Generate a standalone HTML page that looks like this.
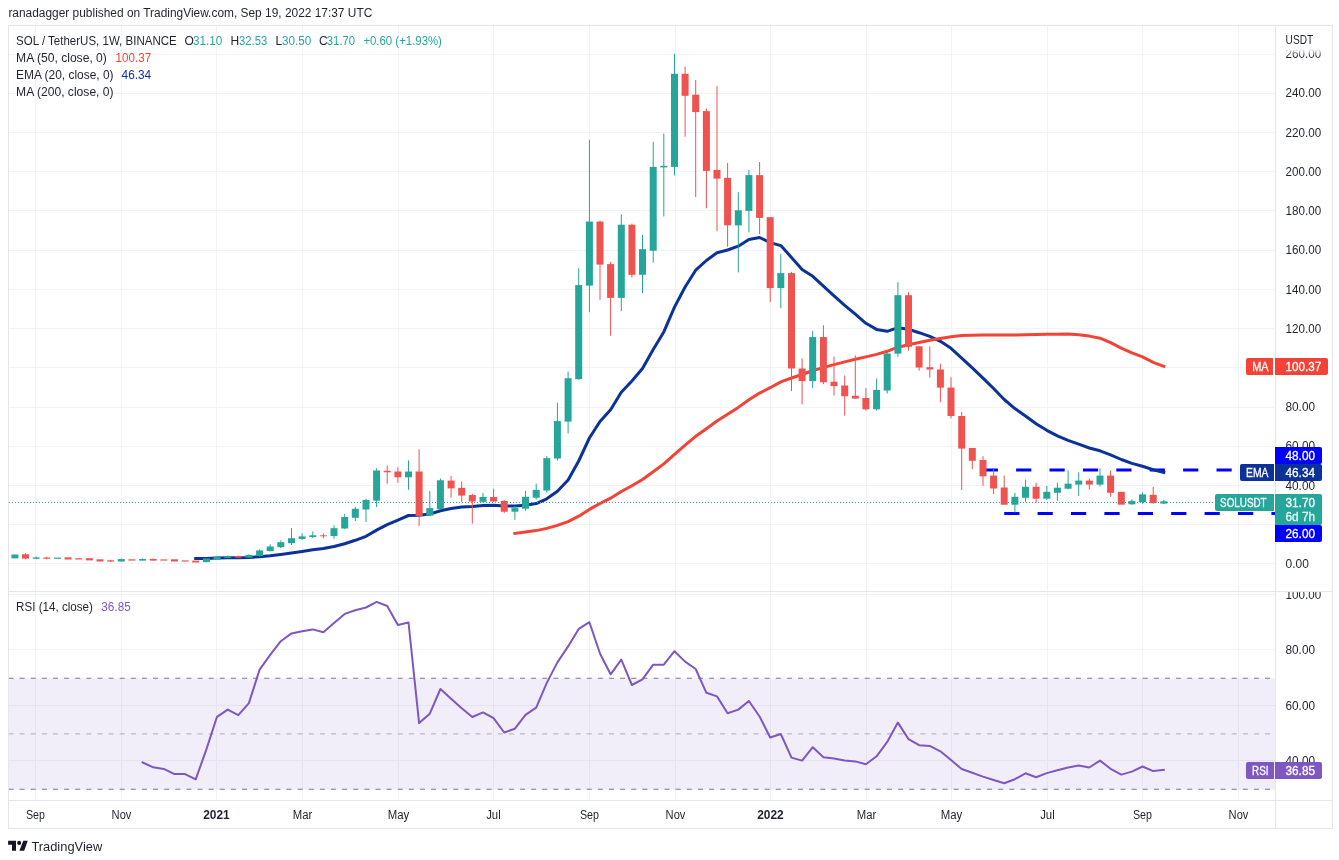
<!DOCTYPE html>
<html lang="en"><head><meta charset="utf-8"><title>SOL / TetherUS, 1W, BINANCE</title>
<style>html,body{margin:0;padding:0;background:#fff}svg{display:block}text{font-family:"Liberation Sans",sans-serif;font-size:12px;fill:#1f2330}.w{fill:#fff;stroke:#fff;stroke-width:.3px}.b{font-weight:bold}</style></head><body>
<svg width="1339" height="860" viewBox="0 0 1339 860">
<rect width="1339" height="860" fill="#fff"/>
<g shape-rendering="crispEdges" fill="#f2f3f6">
<rect x="35" y="26" width="1" height="565"/>
<rect x="35" y="592" width="1" height="208"/>
<rect x="121" y="26" width="1" height="565"/>
<rect x="121" y="592" width="1" height="208"/>
<rect x="216" y="26" width="1" height="565"/>
<rect x="216" y="592" width="1" height="208"/>
<rect x="302" y="26" width="1" height="565"/>
<rect x="302" y="592" width="1" height="208"/>
<rect x="398" y="26" width="1" height="565"/>
<rect x="398" y="592" width="1" height="208"/>
<rect x="493" y="26" width="1" height="565"/>
<rect x="493" y="592" width="1" height="208"/>
<rect x="589" y="26" width="1" height="565"/>
<rect x="589" y="592" width="1" height="208"/>
<rect x="675" y="26" width="1" height="565"/>
<rect x="675" y="592" width="1" height="208"/>
<rect x="770" y="26" width="1" height="565"/>
<rect x="770" y="592" width="1" height="208"/>
<rect x="866" y="26" width="1" height="565"/>
<rect x="866" y="592" width="1" height="208"/>
<rect x="951" y="26" width="1" height="565"/>
<rect x="951" y="592" width="1" height="208"/>
<rect x="1047" y="26" width="1" height="565"/>
<rect x="1047" y="592" width="1" height="208"/>
<rect x="1142" y="26" width="1" height="565"/>
<rect x="1142" y="592" width="1" height="208"/>
<rect x="1238" y="26" width="1" height="565"/>
<rect x="1238" y="592" width="1" height="208"/>
<rect x="9" y="563" width="1266" height="1"/>
<rect x="9" y="524" width="1266" height="1"/>
<rect x="9" y="485" width="1266" height="1"/>
<rect x="9" y="446" width="1266" height="1"/>
<rect x="9" y="407" width="1266" height="1"/>
<rect x="9" y="367" width="1266" height="1"/>
<rect x="9" y="328" width="1266" height="1"/>
<rect x="9" y="289" width="1266" height="1"/>
<rect x="9" y="250" width="1266" height="1"/>
<rect x="9" y="210" width="1266" height="1"/>
<rect x="9" y="171" width="1266" height="1"/>
<rect x="9" y="132" width="1266" height="1"/>
<rect x="9" y="93" width="1266" height="1"/>
<rect x="9" y="54" width="1266" height="1"/>
<rect x="9" y="594" width="1266" height="1"/>
<rect x="9" y="649" width="1266" height="1"/>
<rect x="9" y="705" width="1266" height="1"/>
<rect x="9" y="760" width="1266" height="1"/>
</g>
<rect x="9" y="678.3" width="1266" height="111.2" fill="#7e57c2" fill-opacity="0.1"/>
<g fill="none" stroke-width="1.1" stroke="#787b86" stroke-dasharray="5 6.12">
<path d="M8.5 678.3H1271"/>
<path d="M8.5 789.3H1271"/>
<path d="M8.5 733.9H1271" stroke-opacity="0.45"/>
</g>
<path d="M982.7 469.9H1275" stroke="#0000ff" stroke-width="3" stroke-dasharray="15.2 18.2" fill="none"/>
<path d="M1004.2 513.4H1275" stroke="#0000ff" stroke-width="3" stroke-dasharray="15.2 18.2" fill="none"/>
<path d="M195.7 558.5 L206.4 558.4 L217.0 558.1 L227.7 557.8 L238.3 557.7 L248.9 557.4 L259.6 556.7 L270.2 555.8 L280.8 554.5 L291.5 553.0 L302.1 551.4 L312.8 549.8 L323.4 548.5 L334.0 546.5 L344.7 543.7 L355.3 540.3 L366.0 536.3 L376.6 530.1 L387.2 524.7 L397.9 520.1 L408.5 515.5 L419.1 515.2 L429.8 514.1 L440.4 510.8 L451.1 508.5 L461.7 507.1 L472.3 506.5 L483.0 505.5 L493.6 505.2 L504.2 505.9 L514.9 506.1 L525.5 505.2 L536.2 503.6 L546.8 498.8 L557.4 491.2 L568.1 480.0 L578.7 461.0 L589.4 438.0 L600.0 421.5 L610.6 409.7 L621.3 392.3 L631.9 381.0 L642.5 368.5 L653.2 349.5 L663.8 331.9 L674.5 307.1 L685.1 287.0 L695.7 270.2 L706.4 260.5 L717.0 252.7 L727.6 250.0 L738.3 246.2 L748.9 239.5 L759.6 237.5 L770.2 242.6 L780.8 245.6 L791.5 257.4 L802.1 269.5 L812.8 276.3 L823.4 286.2 L834.0 295.8 L844.7 305.3 L855.3 314.2 L865.9 323.3 L876.6 329.4 L887.2 331.3 L897.9 327.7 L908.5 329.3 L919.1 332.7 L929.8 336.4 L940.4 341.3 L951.0 348.3 L961.7 358.1 L972.3 367.8 L983.0 378.1 L993.6 388.5 L1004.2 399.5 L1014.9 408.6 L1025.5 416.0 L1036.1 423.8 L1046.8 430.3 L1057.4 435.8 L1068.1 440.4 L1078.7 444.2 L1089.3 448.0 L1100.0 450.8 L1110.6 454.8 L1121.3 459.5 L1131.9 463.4 L1142.5 466.2 L1153.2 469.7 L1163.8 472.4" fill="none" stroke="#0c3299" stroke-width="3" stroke-linejoin="round" stroke-linecap="square"/>
<path d="M514.9 533.4 L525.5 532.0 L536.2 530.6 L546.8 528.4 L557.4 525.4 L568.1 521.6 L578.7 516.2 L589.4 509.4 L600.0 503.5 L610.6 498.2 L621.3 491.5 L631.9 485.7 L642.5 479.5 L653.2 471.7 L663.8 463.9 L674.5 454.3 L685.1 445.2 L695.7 436.3 L706.4 428.7 L717.0 421.0 L727.6 414.3 L738.3 407.4 L748.9 399.8 L759.6 393.1 L770.2 387.7 L780.8 381.9 L791.5 378.0 L802.1 374.5 L812.8 370.5 L823.4 367.6 L834.0 364.6 L844.7 361.9 L855.3 359.2 L865.9 356.9 L876.6 354.4 L887.2 351.3 L897.9 347.2 L908.5 344.7 L919.1 342.5 L929.8 340.3 L940.4 338.6 L951.0 336.7 L961.7 335.6 L972.3 335.3 L983.0 335.1 L993.6 335.0 L1004.2 335.1 L1014.9 335.1 L1025.5 334.8 L1036.1 334.6 L1046.8 334.3 L1057.4 334.2 L1068.1 334.1 L1078.7 334.7 L1089.3 336.1 L1100.0 338.2 L1110.6 342.6 L1121.3 348.2 L1131.9 352.9 L1142.5 356.8 L1153.2 362.3 L1163.8 366.4" fill="none" stroke="#f44336" stroke-width="3" stroke-linejoin="round" stroke-linecap="square"/>
<g>
<rect x="11.4" y="554.5" width="7" height="3.9" fill="#26a69a"/>
<rect x="25.0" y="553.2" width="1" height="6.1" fill="#ef5350"/>
<rect x="22.0" y="554.3" width="7" height="4.3" fill="#ef5350"/>
<rect x="35.7" y="556.7" width="1" height="2.5" fill="#26a69a"/>
<rect x="32.7" y="557.5" width="7" height="1.3" fill="#26a69a"/>
<rect x="46.3" y="556.7" width="1" height="2.5" fill="#ef5350"/>
<rect x="43.3" y="557.5" width="7" height="1.2" fill="#ef5350"/>
<rect x="54.0" y="557.6" width="7" height="1.2" fill="#26a69a"/>
<rect x="64.6" y="557.3" width="7" height="2.2" fill="#ef5350"/>
<rect x="75.2" y="558.2" width="7" height="1.3" fill="#ef5350"/>
<rect x="85.9" y="558.2" width="7" height="2.2" fill="#ef5350"/>
<rect x="96.5" y="559.3" width="7" height="2.2" fill="#ef5350"/>
<rect x="110.1" y="559.8" width="1" height="1.8" fill="#ef5350"/>
<rect x="107.1" y="560.3" width="7" height="1.3" fill="#ef5350"/>
<rect x="120.8" y="558.6" width="1" height="2.9" fill="#26a69a"/>
<rect x="117.8" y="559.1" width="7" height="2.4" fill="#26a69a"/>
<rect x="128.4" y="559.3" width="7" height="1.3" fill="#ef5350"/>
<rect x="142.1" y="558.5" width="1" height="2.1" fill="#26a69a"/>
<rect x="139.1" y="559.0" width="7" height="1.6" fill="#26a69a"/>
<rect x="152.7" y="558.5" width="1" height="2.1" fill="#ef5350"/>
<rect x="149.7" y="559.0" width="7" height="1.6" fill="#ef5350"/>
<rect x="160.3" y="559.4" width="7" height="1.2" fill="#ef5350"/>
<rect x="171.0" y="559.3" width="7" height="2.2" fill="#ef5350"/>
<rect x="181.6" y="560.4" width="7" height="1.2" fill="#ef5350"/>
<rect x="192.2" y="560.6" width="7" height="1.9" fill="#ef5350"/>
<rect x="202.9" y="558.3" width="7" height="3.9" fill="#26a69a"/>
<rect x="213.5" y="556.5" width="7" height="3.2" fill="#26a69a"/>
<rect x="227.2" y="555.4" width="1" height="2.9" fill="#26a69a"/>
<rect x="224.2" y="556.1" width="7" height="1.8" fill="#26a69a"/>
<rect x="237.8" y="555.5" width="1" height="2.5" fill="#ef5350"/>
<rect x="234.8" y="556.1" width="7" height="1.5" fill="#ef5350"/>
<rect x="248.4" y="554.3" width="1" height="3.5" fill="#26a69a"/>
<rect x="245.4" y="555.0" width="7" height="2.6" fill="#26a69a"/>
<rect x="259.1" y="549.3" width="1" height="7.2" fill="#26a69a"/>
<rect x="256.1" y="550.4" width="7" height="5.7" fill="#26a69a"/>
<rect x="269.7" y="544.3" width="1" height="7.2" fill="#26a69a"/>
<rect x="266.7" y="546.5" width="7" height="4.6" fill="#26a69a"/>
<rect x="280.3" y="540.4" width="1" height="7.8" fill="#26a69a"/>
<rect x="277.3" y="542.2" width="7" height="5.0" fill="#26a69a"/>
<rect x="291.0" y="528.2" width="1" height="16.8" fill="#26a69a"/>
<rect x="288.0" y="538.2" width="7" height="5.0" fill="#26a69a"/>
<rect x="301.6" y="533.2" width="1" height="6.8" fill="#26a69a"/>
<rect x="298.6" y="536.4" width="7" height="2.5" fill="#26a69a"/>
<rect x="312.3" y="531.4" width="1" height="6.8" fill="#26a69a"/>
<rect x="309.3" y="535.3" width="7" height="1.8" fill="#26a69a"/>
<rect x="322.9" y="533.5" width="1" height="4.7" fill="#ef5350"/>
<rect x="319.9" y="535.3" width="7" height="1.0" fill="#ef5350"/>
<rect x="333.5" y="525.3" width="1" height="13.6" fill="#26a69a"/>
<rect x="330.5" y="528.2" width="7" height="7.8" fill="#26a69a"/>
<rect x="344.2" y="513.8" width="1" height="15.1" fill="#26a69a"/>
<rect x="341.2" y="517.0" width="7" height="11.5" fill="#26a69a"/>
<rect x="354.8" y="507.0" width="1" height="14.0" fill="#26a69a"/>
<rect x="351.8" y="508.8" width="7" height="9.0" fill="#26a69a"/>
<rect x="365.5" y="498.8" width="1" height="23.2" fill="#26a69a"/>
<rect x="362.5" y="499.9" width="7" height="9.6" fill="#26a69a"/>
<rect x="376.1" y="468.3" width="1" height="38.7" fill="#26a69a"/>
<rect x="373.1" y="470.5" width="7" height="30.1" fill="#26a69a"/>
<rect x="386.7" y="465.4" width="1" height="18.3" fill="#ef5350"/>
<rect x="383.7" y="470.8" width="7" height="1.5" fill="#ef5350"/>
<rect x="397.4" y="467.2" width="1" height="15.5" fill="#ef5350"/>
<rect x="394.4" y="471.5" width="7" height="5.8" fill="#ef5350"/>
<rect x="408.0" y="460.4" width="1" height="29.4" fill="#26a69a"/>
<rect x="405.0" y="471.5" width="7" height="5.8" fill="#26a69a"/>
<rect x="418.6" y="449.3" width="1" height="76.7" fill="#ef5350"/>
<rect x="415.6" y="471.5" width="7" height="44.5" fill="#ef5350"/>
<rect x="429.3" y="490.9" width="1" height="25.1" fill="#26a69a"/>
<rect x="426.3" y="508.1" width="7" height="7.5" fill="#26a69a"/>
<rect x="439.9" y="478.5" width="1" height="31.1" fill="#26a69a"/>
<rect x="436.9" y="480.3" width="7" height="28.7" fill="#26a69a"/>
<rect x="450.6" y="476.1" width="1" height="21.6" fill="#ef5350"/>
<rect x="447.6" y="480.6" width="7" height="7.8" fill="#ef5350"/>
<rect x="461.2" y="481.5" width="1" height="20.3" fill="#ef5350"/>
<rect x="458.2" y="487.8" width="7" height="7.8" fill="#ef5350"/>
<rect x="471.8" y="493.8" width="1" height="29.8" fill="#ef5350"/>
<rect x="468.8" y="495.0" width="7" height="6.5" fill="#ef5350"/>
<rect x="482.5" y="492.9" width="1" height="9.8" fill="#26a69a"/>
<rect x="479.5" y="497.0" width="7" height="4.8" fill="#26a69a"/>
<rect x="493.1" y="488.7" width="1" height="13.4" fill="#ef5350"/>
<rect x="490.1" y="497.0" width="7" height="4.5" fill="#ef5350"/>
<rect x="503.7" y="500.0" width="1" height="12.9" fill="#ef5350"/>
<rect x="500.7" y="500.9" width="7" height="10.8" fill="#ef5350"/>
<rect x="514.4" y="506.0" width="1" height="13.8" fill="#26a69a"/>
<rect x="511.4" y="508.1" width="7" height="3.6" fill="#26a69a"/>
<rect x="525.0" y="490.8" width="1" height="20.0" fill="#26a69a"/>
<rect x="522.0" y="496.8" width="7" height="11.9" fill="#26a69a"/>
<rect x="535.7" y="483.6" width="1" height="15.8" fill="#26a69a"/>
<rect x="532.7" y="489.9" width="7" height="7.8" fill="#26a69a"/>
<rect x="546.3" y="456.1" width="1" height="36.5" fill="#26a69a"/>
<rect x="543.3" y="458.2" width="7" height="32.3" fill="#26a69a"/>
<rect x="556.9" y="402.7" width="1" height="57.8" fill="#26a69a"/>
<rect x="553.9" y="421.1" width="7" height="37.4" fill="#26a69a"/>
<rect x="567.6" y="371.5" width="1" height="61.9" fill="#26a69a"/>
<rect x="564.6" y="378.2" width="7" height="43.4" fill="#26a69a"/>
<rect x="578.2" y="268.2" width="1" height="111.5" fill="#26a69a"/>
<rect x="575.2" y="285.1" width="7" height="94.1" fill="#26a69a"/>
<rect x="588.9" y="139.7" width="1" height="172.5" fill="#26a69a"/>
<rect x="585.9" y="221.6" width="7" height="64.0" fill="#26a69a"/>
<rect x="599.5" y="220.6" width="1" height="79.3" fill="#ef5350"/>
<rect x="596.5" y="221.6" width="7" height="43.0" fill="#ef5350"/>
<rect x="610.1" y="262.0" width="1" height="73.7" fill="#ef5350"/>
<rect x="607.1" y="264.1" width="7" height="33.8" fill="#ef5350"/>
<rect x="620.8" y="214.4" width="1" height="96.8" fill="#26a69a"/>
<rect x="617.8" y="224.7" width="7" height="73.2" fill="#26a69a"/>
<rect x="631.4" y="223.6" width="1" height="53.8" fill="#ef5350"/>
<rect x="628.4" y="224.7" width="7" height="50.1" fill="#ef5350"/>
<rect x="642.0" y="234.9" width="1" height="58.3" fill="#26a69a"/>
<rect x="639.0" y="249.2" width="7" height="25.6" fill="#26a69a"/>
<rect x="652.7" y="141.8" width="1" height="120.8" fill="#26a69a"/>
<rect x="649.7" y="166.9" width="7" height="83.8" fill="#26a69a"/>
<rect x="663.3" y="133.6" width="1" height="82.9" fill="#26a69a"/>
<rect x="660.3" y="165.8" width="7" height="1.6" fill="#26a69a"/>
<rect x="674.0" y="53.8" width="1" height="121.7" fill="#26a69a"/>
<rect x="671.0" y="73.8" width="7" height="93.1" fill="#26a69a"/>
<rect x="684.6" y="66.6" width="1" height="70.1" fill="#ef5350"/>
<rect x="681.6" y="73.8" width="7" height="22.0" fill="#ef5350"/>
<rect x="695.2" y="79.9" width="1" height="117.1" fill="#ef5350"/>
<rect x="692.2" y="94.7" width="7" height="17.4" fill="#ef5350"/>
<rect x="705.9" y="108.5" width="1" height="99.8" fill="#ef5350"/>
<rect x="702.9" y="111.1" width="7" height="59.8" fill="#ef5350"/>
<rect x="716.5" y="86.0" width="1" height="145.3" fill="#ef5350"/>
<rect x="713.5" y="169.9" width="7" height="8.7" fill="#ef5350"/>
<rect x="727.1" y="163.0" width="1" height="83.7" fill="#ef5350"/>
<rect x="724.1" y="177.8" width="7" height="47.5" fill="#ef5350"/>
<rect x="737.8" y="192.2" width="1" height="80.2" fill="#26a69a"/>
<rect x="734.8" y="210.3" width="7" height="15.1" fill="#26a69a"/>
<rect x="748.4" y="170.0" width="1" height="62.3" fill="#26a69a"/>
<rect x="745.4" y="175.1" width="7" height="35.8" fill="#26a69a"/>
<rect x="759.1" y="162.0" width="1" height="72.1" fill="#ef5350"/>
<rect x="756.1" y="175.1" width="7" height="42.8" fill="#ef5350"/>
<rect x="769.7" y="217.2" width="1" height="84.8" fill="#ef5350"/>
<rect x="766.7" y="217.2" width="7" height="70.9" fill="#ef5350"/>
<rect x="780.3" y="254.2" width="1" height="54.0" fill="#26a69a"/>
<rect x="777.3" y="273.1" width="7" height="15.0" fill="#26a69a"/>
<rect x="791.0" y="271.8" width="1" height="119.3" fill="#ef5350"/>
<rect x="788.0" y="273.1" width="7" height="95.4" fill="#ef5350"/>
<rect x="801.6" y="358.5" width="1" height="45.8" fill="#ef5350"/>
<rect x="798.6" y="368.5" width="7" height="12.6" fill="#ef5350"/>
<rect x="812.2" y="330.8" width="1" height="57.2" fill="#26a69a"/>
<rect x="809.2" y="337.1" width="7" height="44.0" fill="#26a69a"/>
<rect x="822.9" y="325.2" width="1" height="59.0" fill="#ef5350"/>
<rect x="819.9" y="337.1" width="7" height="45.2" fill="#ef5350"/>
<rect x="833.5" y="356.6" width="1" height="38.9" fill="#ef5350"/>
<rect x="830.5" y="381.7" width="7" height="4.4" fill="#ef5350"/>
<rect x="844.2" y="375.4" width="1" height="40.2" fill="#ef5350"/>
<rect x="841.2" y="385.5" width="7" height="10.7" fill="#ef5350"/>
<rect x="854.8" y="355.3" width="1" height="43.3" fill="#ef5350"/>
<rect x="851.8" y="395.8" width="7" height="2.8" fill="#ef5350"/>
<rect x="865.4" y="388.0" width="1" height="22.6" fill="#ef5350"/>
<rect x="862.4" y="398.0" width="7" height="11.3" fill="#ef5350"/>
<rect x="876.1" y="378.6" width="1" height="32.0" fill="#26a69a"/>
<rect x="873.1" y="389.9" width="7" height="19.4" fill="#26a69a"/>
<rect x="886.7" y="352.2" width="1" height="41.4" fill="#26a69a"/>
<rect x="883.7" y="353.5" width="7" height="37.0" fill="#26a69a"/>
<rect x="897.4" y="282.2" width="1" height="74.6" fill="#26a69a"/>
<rect x="894.4" y="295.2" width="7" height="58.4" fill="#26a69a"/>
<rect x="908.0" y="292.2" width="1" height="58.5" fill="#ef5350"/>
<rect x="905.0" y="295.2" width="7" height="51.6" fill="#ef5350"/>
<rect x="918.6" y="346.3" width="1" height="24.4" fill="#ef5350"/>
<rect x="915.6" y="346.3" width="7" height="21.2" fill="#ef5350"/>
<rect x="929.3" y="346.3" width="1" height="31.4" fill="#ef5350"/>
<rect x="926.3" y="367.2" width="7" height="2.3" fill="#ef5350"/>
<rect x="939.9" y="363.7" width="1" height="38.4" fill="#ef5350"/>
<rect x="936.9" y="369.5" width="7" height="18.1" fill="#ef5350"/>
<rect x="950.5" y="377.1" width="1" height="41.3" fill="#ef5350"/>
<rect x="947.5" y="387.6" width="7" height="28.4" fill="#ef5350"/>
<rect x="961.2" y="412.0" width="1" height="77.9" fill="#ef5350"/>
<rect x="958.2" y="416.0" width="7" height="32.6" fill="#ef5350"/>
<rect x="971.8" y="448.0" width="1" height="21.0" fill="#ef5350"/>
<rect x="968.8" y="448.0" width="7" height="12.8" fill="#ef5350"/>
<rect x="982.5" y="456.2" width="1" height="29.6" fill="#ef5350"/>
<rect x="979.5" y="460.0" width="7" height="16.3" fill="#ef5350"/>
<rect x="993.1" y="468.4" width="1" height="25.6" fill="#ef5350"/>
<rect x="990.1" y="475.6" width="7" height="12.9" fill="#ef5350"/>
<rect x="1003.7" y="475.6" width="1" height="29.1" fill="#ef5350"/>
<rect x="1000.7" y="487.5" width="7" height="17.2" fill="#ef5350"/>
<rect x="1014.4" y="493.0" width="1" height="19.6" fill="#26a69a"/>
<rect x="1011.4" y="496.8" width="7" height="7.9" fill="#26a69a"/>
<rect x="1025.0" y="479.6" width="1" height="22.2" fill="#26a69a"/>
<rect x="1022.0" y="486.8" width="7" height="11.0" fill="#26a69a"/>
<rect x="1035.6" y="482.7" width="1" height="19.9" fill="#ef5350"/>
<rect x="1032.6" y="486.8" width="7" height="11.9" fill="#ef5350"/>
<rect x="1046.3" y="485.8" width="1" height="14.1" fill="#26a69a"/>
<rect x="1043.3" y="491.8" width="7" height="6.9" fill="#26a69a"/>
<rect x="1056.9" y="482.7" width="1" height="18.2" fill="#26a69a"/>
<rect x="1053.9" y="487.7" width="7" height="5.1" fill="#26a69a"/>
<rect x="1067.6" y="470.3" width="1" height="19.0" fill="#26a69a"/>
<rect x="1064.6" y="483.7" width="7" height="5.0" fill="#26a69a"/>
<rect x="1078.2" y="472.4" width="1" height="23.5" fill="#26a69a"/>
<rect x="1075.2" y="480.6" width="7" height="4.0" fill="#26a69a"/>
<rect x="1088.8" y="478.4" width="1" height="11.2" fill="#ef5350"/>
<rect x="1085.8" y="480.6" width="7" height="4.0" fill="#ef5350"/>
<rect x="1099.5" y="468.4" width="1" height="18.1" fill="#26a69a"/>
<rect x="1096.5" y="475.6" width="7" height="9.0" fill="#26a69a"/>
<rect x="1110.1" y="470.5" width="1" height="26.3" fill="#ef5350"/>
<rect x="1107.1" y="475.6" width="7" height="17.2" fill="#ef5350"/>
<rect x="1117.8" y="491.8" width="7" height="12.9" fill="#ef5350"/>
<rect x="1131.4" y="499.2" width="1" height="5.6" fill="#26a69a"/>
<rect x="1128.4" y="500.9" width="7" height="3.4" fill="#26a69a"/>
<rect x="1142.0" y="492.4" width="1" height="11.2" fill="#26a69a"/>
<rect x="1139.0" y="494.4" width="7" height="7.8" fill="#26a69a"/>
<rect x="1152.7" y="487.0" width="1" height="16.6" fill="#ef5350"/>
<rect x="1149.7" y="494.8" width="7" height="8.4" fill="#ef5350"/>
<rect x="1163.3" y="499.7" width="1" height="4.3" fill="#26a69a"/>
<rect x="1160.3" y="501.3" width="7" height="2.3" fill="#26a69a"/>
</g>
<path d="M9 502.5H1214" stroke="#26a69a" stroke-width="1" stroke-dasharray="1 2" shape-rendering="crispEdges"/>
<path d="M142.6 762.4 L153.2 767.3 L163.8 768.9 L174.5 774.1 L185.1 774.1 L195.7 779.3 L206.4 749.4 L217.0 716.8 L227.7 709.6 L238.3 715.2 L248.9 703.1 L259.6 669.6 L270.2 654.9 L280.8 641.2 L291.5 633.4 L302.1 631.3 L312.8 629.4 L323.4 632.2 L334.0 623.0 L344.7 613.9 L355.3 610.3 L366.0 607.5 L376.6 601.9 L387.2 606.0 L397.9 625.0 L408.5 622.5 L419.1 723.1 L429.8 713.7 L440.4 689.0 L451.1 698.7 L461.7 708.3 L472.3 717.0 L483.0 712.4 L493.6 718.2 L504.2 732.5 L514.9 728.7 L525.5 714.9 L536.2 707.6 L546.8 682.9 L557.4 662.4 L568.1 646.4 L578.7 628.9 L589.4 622.2 L600.0 653.5 L610.6 674.3 L621.3 659.6 L631.9 685.0 L642.5 679.4 L653.2 664.7 L663.8 664.7 L674.5 651.2 L685.1 661.6 L695.7 669.0 L706.4 692.8 L717.0 696.4 L727.6 713.2 L738.3 709.6 L748.9 701.0 L759.6 716.5 L770.2 737.5 L780.8 734.0 L791.5 757.6 L802.1 760.6 L812.8 747.2 L823.4 757.3 L834.0 758.4 L844.7 760.6 L855.3 761.4 L865.9 764.2 L876.6 756.3 L887.2 741.9 L897.9 722.6 L908.5 739.1 L919.1 745.2 L929.8 745.9 L940.4 751.3 L951.0 760.1 L961.7 769.0 L972.3 772.8 L983.0 776.6 L993.6 780.0 L1004.2 783.2 L1014.9 779.2 L1025.5 773.3 L1036.1 777.2 L1046.8 773.1 L1057.4 770.3 L1068.1 767.5 L1078.7 765.5 L1089.3 767.5 L1100.0 760.6 L1110.6 768.8 L1121.3 774.6 L1131.9 771.6 L1142.5 766.5 L1153.2 771.1 L1163.8 769.8" fill="none" stroke="#7e57c2" stroke-width="2" stroke-linejoin="round" stroke-linecap="square"/>
<g shape-rendering="crispEdges" fill="#e3e6ed">
<rect x="8" y="25" width="1325" height="1"/>
<rect x="8" y="828" width="1325" height="1"/>
<rect x="8" y="25" width="1" height="804"/>
<rect x="1332" y="25" width="1" height="804"/>
<rect x="1275" y="25" width="1" height="804"/>
<rect x="8" y="591" width="1325" height="1"/>
<rect x="8" y="800" width="1325" height="1"/>
</g>
<defs><linearGradient id="fd" x1="0" y1="0" x2="0" y2="1"><stop offset="0" stop-color="#fff" stop-opacity="1"/><stop offset="1" stop-color="#fff" stop-opacity="0"/></linearGradient><clipPath id="rp"><rect x="1276" y="592" width="56" height="208"/></clipPath></defs>
<text x="1285.5" y="568" textLength="23.3" lengthAdjust="spacingAndGlyphs">0.00</text>
<text x="1285.5" y="528.7" textLength="29.5" lengthAdjust="spacingAndGlyphs">20.00</text>
<text x="1285.5" y="489.5" textLength="29.5" lengthAdjust="spacingAndGlyphs">40.00</text>
<text x="1285.5" y="450.3" textLength="29.5" lengthAdjust="spacingAndGlyphs">60.00</text>
<text x="1285.5" y="411.1" textLength="29.5" lengthAdjust="spacingAndGlyphs">80.00</text>
<text x="1285.5" y="371.9" textLength="35.6" lengthAdjust="spacingAndGlyphs">100.00</text>
<text x="1285.5" y="332.7" textLength="35.6" lengthAdjust="spacingAndGlyphs">120.00</text>
<text x="1285.5" y="293.5" textLength="35.6" lengthAdjust="spacingAndGlyphs">140.00</text>
<text x="1285.5" y="254.3" textLength="35.6" lengthAdjust="spacingAndGlyphs">160.00</text>
<text x="1285.5" y="215.1" textLength="35.6" lengthAdjust="spacingAndGlyphs">180.00</text>
<text x="1285.5" y="175.9" textLength="35.6" lengthAdjust="spacingAndGlyphs">200.00</text>
<text x="1285.5" y="136.6" textLength="35.6" lengthAdjust="spacingAndGlyphs">220.00</text>
<text x="1285.5" y="97.4" textLength="35.6" lengthAdjust="spacingAndGlyphs">240.00</text>
<text x="1285.5" y="58.2" textLength="35.6" lengthAdjust="spacingAndGlyphs">260.00</text>
<rect x="1276" y="26" width="56" height="23" fill="#fff"/>
<rect x="1276" y="49" width="56" height="7" fill="url(#fd)"/>
<text x="1285.6" y="43.5" textLength="27.6" lengthAdjust="spacingAndGlyphs">USDT</text>
<g clip-path="url(#rp)">
<text x="1285.5" y="598.6" textLength="35.6" lengthAdjust="spacingAndGlyphs">100.00</text>
<text x="1285.5" y="653.6" textLength="29.5" lengthAdjust="spacingAndGlyphs">80.00</text>
<text x="1285.5" y="709.6" textLength="29.5" lengthAdjust="spacingAndGlyphs">60.00</text>
<text x="1285.5" y="764.6" textLength="29.5" lengthAdjust="spacingAndGlyphs">40.00</text>
</g>
<path d="M1248 358h25v17h-25a2 2 0 0 1-2-2v-13a2 2 0 0 1 2-2z" fill="#f44336"/>
<text x="1252.3" y="371" textLength="16.3" lengthAdjust="spacingAndGlyphs" class="w">MA</text>
<path d="M1275 358h51a2 2 0 0 1 2 2v13a2 2 0 0 1-2 2h-51z" fill="#f44336"/>
<text x="1285.5" y="371" textLength="35.6" lengthAdjust="spacingAndGlyphs" class="w">100.37</text>
<path d="M1275 447h45a2 2 0 0 1 2 2v13a2 2 0 0 1-2 2h-45z" fill="#0000ff"/>
<text x="1285.5" y="460" textLength="29.5" lengthAdjust="spacingAndGlyphs" class="w">48.00</text>
<path d="M1242 464h32v17h-32a2 2 0 0 1-2-2v-13a2 2 0 0 1 2-2z" fill="#0c3299"/>
<text x="1246" y="477" textLength="22.4" lengthAdjust="spacingAndGlyphs" class="w">EMA</text>
<path d="M1275 464h45a2 2 0 0 1 2 2v13a2 2 0 0 1-2 2h-45z" fill="#0c3299"/>
<text x="1285.5" y="477" textLength="29.5" lengthAdjust="spacingAndGlyphs" class="w">46.34</text>
<path d="M1275 494h45a2 2 0 0 1 2 2v27a2 2 0 0 1-2 2h-45z" fill="#26a69a"/>
<text x="1285.5" y="507" textLength="29.5" lengthAdjust="spacingAndGlyphs" class="w">31.70</text>
<text x="1285.5" y="521" textLength="29.5" lengthAdjust="spacingAndGlyphs" class="w" fill-opacity="0.8">6d 7h</text>
<path d="M1217 494h57v17h-57a2 2 0 0 1-2-2v-13a2 2 0 0 1 2-2z" fill="#26a69a"/>
<text x="1220.1" y="507" textLength="46.5" lengthAdjust="spacingAndGlyphs" class="w">SOLUSDT</text>
<path d="M1275 525h45a2 2 0 0 1 2 2v13a2 2 0 0 1-2 2h-45z" fill="#0000ff"/>
<text x="1285.5" y="538" textLength="29.5" lengthAdjust="spacingAndGlyphs" class="w">26.00</text>
<path d="M1248 762h26v17h-26a2 2 0 0 1-2-2v-13a2 2 0 0 1 2-2z" fill="#7e57c2"/>
<text x="1252" y="775" textLength="16.5" lengthAdjust="spacingAndGlyphs" class="w">RSI</text>
<path d="M1275 762h45a2 2 0 0 1 2 2v13a2 2 0 0 1-2 2h-45z" fill="#7e57c2"/>
<text x="1285.5" y="775" textLength="29.5" lengthAdjust="spacingAndGlyphs" class="w">36.85</text>
<text x="26" y="818.5" textLength="19" lengthAdjust="spacingAndGlyphs">Sep</text>
<text x="111.6" y="818.5" textLength="19.8" lengthAdjust="spacingAndGlyphs">Nov</text>
<text x="203.2" y="818.5" textLength="26.5" lengthAdjust="spacingAndGlyphs" class="b">2021</text>
<text x="292.8" y="818.5" textLength="19.5" lengthAdjust="spacingAndGlyphs">Mar</text>
<text x="387.8" y="818.5" textLength="21.5" lengthAdjust="spacingAndGlyphs">May</text>
<text x="486.2" y="818.5" textLength="14.5" lengthAdjust="spacingAndGlyphs">Jul</text>
<text x="580" y="818.5" textLength="19" lengthAdjust="spacingAndGlyphs">Sep</text>
<text x="665.6" y="818.5" textLength="19.8" lengthAdjust="spacingAndGlyphs">Nov</text>
<text x="757.2" y="818.5" textLength="26.5" lengthAdjust="spacingAndGlyphs" class="b">2022</text>
<text x="856.8" y="818.5" textLength="19.5" lengthAdjust="spacingAndGlyphs">Mar</text>
<text x="940.8" y="818.5" textLength="21.5" lengthAdjust="spacingAndGlyphs">May</text>
<text x="1040.2" y="818.5" textLength="14.5" lengthAdjust="spacingAndGlyphs">Jul</text>
<text x="1133" y="818.5" textLength="19" lengthAdjust="spacingAndGlyphs">Sep</text>
<text x="1228.6" y="818.5" textLength="19.8" lengthAdjust="spacingAndGlyphs">Nov</text>
<text x="8.4" y="17.2" textLength="363.9" lengthAdjust="spacingAndGlyphs">ranadagger published on TradingView.com, Sep 19, 2022 17:37 UTC</text>
<text x="16.1" y="44.5" textLength="160.6" lengthAdjust="spacingAndGlyphs">SOL / TetherUS, 1W, BINANCE</text>
<text x="184.6" y="44.5">O</text>
<text x="193" y="44.5" textLength="29.3" lengthAdjust="spacingAndGlyphs" style="fill:#26a69a">31.10</text>
<text x="230.6" y="44.5">H</text>
<text x="239" y="44.5" textLength="28.2" lengthAdjust="spacingAndGlyphs" style="fill:#26a69a">32.53</text>
<text x="275.6" y="44.5">L</text>
<text x="281.9" y="44.5" textLength="29.3" lengthAdjust="spacingAndGlyphs" style="fill:#26a69a">30.50</text>
<text x="318.9" y="44.5">C</text>
<text x="326.8" y="44.5" textLength="28.3" lengthAdjust="spacingAndGlyphs" style="fill:#26a69a">31.70</text>
<text x="363.4" y="44.5" textLength="78.5" lengthAdjust="spacingAndGlyphs" style="fill:#26a69a">+0.60 (+1.93%)</text>
<text x="16.1" y="61.5" textLength="90.8" lengthAdjust="spacingAndGlyphs">MA (50, close, 0)</text>
<text x="115.6" y="61.5" textLength="35.6" lengthAdjust="spacingAndGlyphs" style="fill:#f44336">100.37</text>
<text x="16.1" y="78.5" textLength="97.5" lengthAdjust="spacingAndGlyphs">EMA (20, close, 0)</text>
<text x="121.6" y="78.5" textLength="29.6" lengthAdjust="spacingAndGlyphs" style="fill:#0c3299">46.34</text>
<text x="16.1" y="95.5" textLength="97.5" lengthAdjust="spacingAndGlyphs">MA (200, close, 0)</text>
<text x="16.1" y="610.7" textLength="76.8" lengthAdjust="spacingAndGlyphs">RSI (14, close)</text>
<text x="101.3" y="610.7" textLength="29.4" lengthAdjust="spacingAndGlyphs" style="fill:#7e57c2">36.85</text>
<g fill="#131722"><path d="M8.1 840.8H16V850.8H12V844.7H8.1z"/><circle cx="19.15" cy="842.9" r="2.05"/><path d="M23.3 840.8H27.7L24.2 850.8H19.4z"/></g>
<text x="31.4" y="850.6" textLength="70.8" lengthAdjust="spacingAndGlyphs" style="fill:#1e222d;font-size:13px">TradingView</text>
</svg></body></html>
